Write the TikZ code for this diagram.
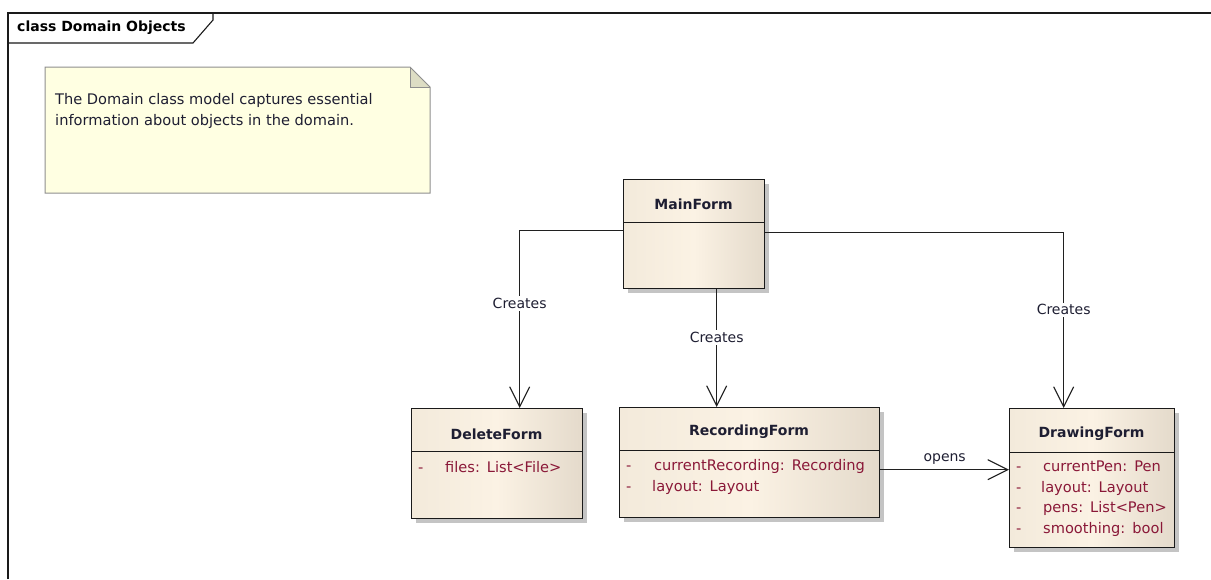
\documentclass[tikz,border=0pt]{standalone}
\usepackage{fontspec}
\setmainfont{DejaVu Sans}
\usetikzlibrary{arrows.meta}
\definecolor{framec}{HTML}{1A1A1A}
\definecolor{notefill}{HTML}{FFFFE2}
\definecolor{notefold}{HTML}{DDDDC4}
\definecolor{noteedge}{HTML}{8E8E8E}
\definecolor{clsleft}{HTML}{F3EADB}
\definecolor{clsmid}{HTML}{FBF2E4}
\definecolor{clsright}{HTML}{E4DACB}
\definecolor{shadowc}{HTML}{C4C4C4}
\definecolor{attrc}{HTML}{8A1838}
\definecolor{titlec}{HTML}{1E1E32}
\definecolor{linkc}{HTML}{202020}
\newcommand\bodyfont{\fontsize{14.6}{17}\selectfont}
\newcommand\headfont{\fontsize{14}{17}\selectfont\bfseries}
\newcommand\colsep{\hspace{7pt}}
\tikzset{
  classbox/.style={draw=framec, line width=1.3pt, inner sep=0pt,
    left color=clsleft, right color=clsright, middle color=clsmid},
  shade/.style={fill=shadowc},
  ctitle/.style={font=\headfont, text=titlec, inner sep=0pt},
  attr/.style={font=\bodyfont, text=attrc, inner sep=0pt, anchor=west,
    text height=11pt, text depth=3.5pt},
  notetext/.style={font=\bodyfont, text=titlec, inner sep=0pt, anchor=west,
    text height=11pt, text depth=3.5pt},
  link/.style={draw=linkc, line width=1.1pt, -{Straight Barb[length=20pt, width=20pt, line width=1.1pt]}},
  lbl/.style={font=\fontsize{14}{17}\selectfont, text=titlec, fill=white, inner sep=2pt},
}
\begin{document}
\begin{tikzpicture}[x=1pt, y=-1pt]
\useasboundingbox (0,0) rectangle (1211,579);
\fill[white] (0,0) rectangle (1211,579);

% diagram frame and its name tab
\draw[framec, line width=1.4pt] (8,579) -- (8,13) -- (1211,13);
\draw[framec, line width=1.1pt] (8,43) -- (193,43) -- (213,20) -- (213,13);
\node[font=\headfont, anchor=west, inner sep=0pt] (tab) at (17,28) {class Domain Objects};

% note with folded corner
\fill[notefill] (45,67) -- (410,67) -- (430,87) -- (430,193) -- (45,193) -- cycle;
\fill[notefold] (410,67) -- (410,87) -- (430,87) -- cycle;
\draw[noteedge, line width=1pt] (45,67) -- (410,67) -- (430,87) -- (430,193) -- (45,193) -- cycle;
\draw[noteedge, line width=1pt] (410,67) -- (410,87) -- (430,87);
\node[notetext] (note1) at (55,101) {The Domain class model captures essential};
\node[notetext] (note2) at (55,122) {information about objects in the domain.};

% MainForm
\fill[shade] (628,184) rectangle (769,293);
\node[classbox, anchor=north west, minimum width=141pt, minimum height=109pt] (main) at (623,179) {};
\draw[framec, line width=1pt] (623,222) -- (764,222);
\node[ctitle] (mainT) at (693.5,204) {MainForm};

% DeleteForm
\fill[shade] (416,413) rectangle (587,523);
\node[classbox, anchor=north west, minimum width=171pt, minimum height=110pt] (del) at (411,408) {};
\draw[framec, line width=1pt] (411,451) -- (582,451);
\node[ctitle] (delT) at (496.5,434) {DeleteForm};
\node[attr] (delD1) at (418,469) {-};
\node[attr] (delA1) at (445,469) {files:\colsep List<File>};

% RecordingForm
\fill[shade] (624,412) rectangle (884,522);
\node[classbox, anchor=north west, minimum width=260pt, minimum height=110pt] (rec) at (619,407) {};
\draw[framec, line width=1pt] (619,450) -- (879,450);
\node[ctitle] (recT) at (749,432) {RecordingForm};
\node[attr] (recD1) at (626,467) {-};
\node[attr] (recA1) at (654,467) {currentRecording:\colsep Recording};
\node[attr] (recD2) at (626,488) {-};
\node[attr] (recA2) at (652,488) {layout:\colsep Layout};

% DrawingForm
\fill[shade] (1014,413) rectangle (1179,552);
\node[classbox, anchor=north west, minimum width=165pt, minimum height=139pt] (drw) at (1009,408) {};
\draw[framec, line width=1pt] (1009,452) -- (1174,452);
\node[ctitle] (drwT) at (1091.5,434) {DrawingForm};
\node[attr] (drwD1) at (1016,468) {-};
\node[attr] (drwA1) at (1043,468) {currentPen:\colsep Pen};
\node[attr] (drwD2) at (1016,489) {-};
\node[attr] (drwA2) at (1041,489) {layout:\colsep Layout};
\node[attr] (drwD3) at (1016,509) {-};
\node[attr] (drwA3) at (1043,509) {pens:\colsep List<Pen>};
\node[attr] (drwD4) at (1016,530) {-};
\node[attr] (drwA4) at (1043,530) {smoothing:\colsep bool};

% associations
\draw[link] ([yshift=3.5pt]main.west) -| ([xshift=22.5pt]del.north)
  node[lbl, pos=0.705] {Creates};
\draw[link] ([xshift=22.5pt]main.south) -- ([xshift=-33pt]rec.north)
  node[lbl, pos=0.41] {Creates};
\draw[link] ([yshift=1.5pt]main.east) -| ([xshift=-28.5pt]drw.north)
  node[lbl, pos=0.72] {Creates};
\draw[link] ([yshift=-7pt]rec.east) -- ([yshift=-7pt]rec.east -| drw.west)
  node[font=\fontsize{14}{17}\selectfont, text=titlec, pos=0.5, above=1pt] {opens};
\end{tikzpicture}
\end{document}
